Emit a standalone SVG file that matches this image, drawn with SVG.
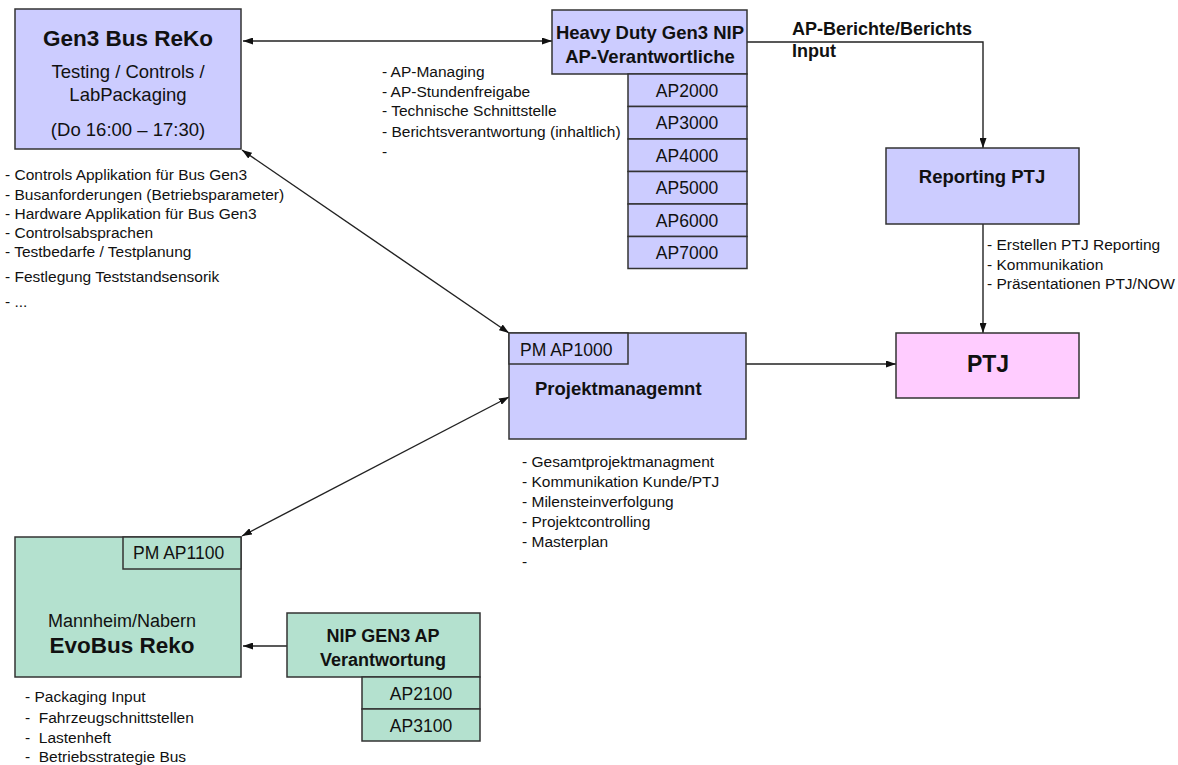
<svg xmlns="http://www.w3.org/2000/svg" width="1178" height="765" viewBox="0 0 1178 765">
<style>
text{font-family:"Liberation Sans",Arial,sans-serif;fill:#111}
.b{font-weight:bold}
.c{text-anchor:middle}
.bl{font-size:15.5px}
.lav{fill:#ccccff;stroke:#333;stroke-width:1.5}
.pink{fill:#ffccff;stroke:#333;stroke-width:1.5}
.grn{fill:#b4e1cf;stroke:#333;stroke-width:1.5}
.con{fill:none;stroke:#222;stroke-width:1.4}
</style>
<defs>
<marker id="ah" viewBox="0 0 10 7" refX="10" refY="3.5" markerWidth="10" markerHeight="7" markerUnits="userSpaceOnUse" orient="auto-start-reverse">
<path d="M0,0 L10,3.5 L0,7 z" fill="#111"/>
</marker>
</defs>
<rect width="1178" height="765" fill="#fff"/>

<g id="connectors">
<line class="con" x1="243" y1="41" x2="552" y2="41" marker-start="url(#ah)" marker-end="url(#ah)"/>
<path class="con" d="M747,42 H983 V148" marker-end="url(#ah)"/>
<line class="con" x1="983" y1="224" x2="983" y2="333" marker-end="url(#ah)"/>
<line class="con" x1="746" y1="364" x2="896" y2="364" marker-end="url(#ah)"/>
<line class="con" x1="242" y1="150" x2="509" y2="333" marker-start="url(#ah)" marker-end="url(#ah)"/>
<line class="con" x1="509" y1="397" x2="242" y2="536" marker-start="url(#ah)" marker-end="url(#ah)"/>
<line class="con" x1="287" y1="646" x2="243" y2="646" marker-end="url(#ah)"/>
<text class="b" x="792" y="35" style="font-size:18px">AP-Berichte/Berichts</text>
<text class="b" x="792" y="57" style="font-size:18px">Input</text>
</g>

<g id="gen3">
<rect class="lav" x="15" y="9" width="226" height="140"/>
<text class="b c" x="128" y="46" style="font-size:22.5px">Gen3 Bus ReKo</text>
<text class="c" x="128" y="78" style="font-size:18.5px">Testing / Controls /</text>
<text class="c" x="128" y="101" style="font-size:18.5px">LabPackaging</text>
<text class="c" x="128" y="136" style="font-size:18.5px">(Do 16:00 – 17:30)</text>
<text class="bl" x="5" y="180">- Controls Applikation für Bus Gen3</text>
<text class="bl" x="5" y="200">- Busanforderungen (Betriebsparameter)</text>
<text class="bl" x="5" y="219">- Hardware Applikation für Bus Gen3</text>
<text class="bl" x="5" y="238">- Controlsabsprachen</text>
<text class="bl" x="5" y="257">- Testbedarfe / Testplanung</text>
<text class="bl" x="5" y="282">- Festlegung Teststandsensorik</text>
<text class="bl" x="5" y="307">- ...</text>
</g>

<g id="heavyduty">
<rect class="lav" x="552" y="10" width="195" height="64"/>
<text class="b c" x="650" y="39" style="font-size:18.5px">Heavy Duty Gen3 NIP</text>
<text class="b c" x="650" y="63" style="font-size:18.5px">AP-Verantwortliche</text>
<rect class="lav" x="628" y="74" width="119" height="32.5"/>
<rect class="lav" x="628" y="106.5" width="119" height="32.5"/>
<rect class="lav" x="628" y="139" width="119" height="32.5"/>
<rect class="lav" x="628" y="171.5" width="119" height="32.5"/>
<rect class="lav" x="628" y="204" width="119" height="32.5"/>
<rect class="lav" x="628" y="236.5" width="119" height="32"/>
<text class="c" x="687" y="97" style="font-size:17.5px">AP2000</text>
<text class="c" x="687" y="129" style="font-size:17.5px">AP3000</text>
<text class="c" x="687" y="162" style="font-size:17.5px">AP4000</text>
<text class="c" x="687" y="194" style="font-size:17.5px">AP5000</text>
<text class="c" x="687" y="227" style="font-size:17.5px">AP6000</text>
<text class="c" x="687" y="259" style="font-size:17.5px">AP7000</text>
<text class="bl" x="382" y="77">- AP-Managing</text>
<text class="bl" x="382" y="97">- AP-Stundenfreigabe</text>
<text class="bl" x="382" y="116">- Technische Schnittstelle</text>
<text class="bl" x="382" y="137">- Berichtsverantwortung (inhaltlich)</text>
<text class="bl" x="382" y="157">-</text>
</g>

<g id="reporting">
<rect class="lav" x="886" y="148" width="193" height="76"/>
<text class="b c" x="982" y="183" style="font-size:18.5px">Reporting PTJ</text>
<text class="bl" x="987" y="250">- Erstellen PTJ Reporting</text>
<text class="bl" x="987" y="270">- Kommunikation</text>
<text class="bl" x="987" y="289">- Präsentationen PTJ/NOW</text>
</g>

<g id="ptj">
<rect class="pink" x="896" y="333" width="183" height="65"/>
<text class="b c" x="988" y="372" style="font-size:23px">PTJ</text>
</g>

<g id="projektmanagement">
<rect class="lav" x="509" y="333" width="237" height="106"/>
<rect class="lav" x="509" y="333" width="119" height="31"/>
<text x="520" y="356" style="font-size:17.5px">PM AP1000</text>
<text class="b" x="535" y="395" style="font-size:18.5px">Projektmanagemnt</text>
<text class="bl" x="522" y="467">- Gesamtprojektmanagment</text>
<text class="bl" x="522" y="487">- Kommunikation Kunde/PTJ</text>
<text class="bl" x="522" y="507">- Milensteinverfolgung</text>
<text class="bl" x="522" y="527">- Projektcontrolling</text>
<text class="bl" x="522" y="547">- Masterplan</text>
<text class="bl" x="522" y="567">-</text>
</g>

<g id="evobus">
<rect class="grn" x="15" y="537" width="226" height="140"/>
<rect class="grn" x="123" y="537" width="118" height="32"/>
<text x="133" y="559" style="font-size:17.5px">PM AP1100</text>
<text class="c" x="122" y="627" style="font-size:18px">Mannheim/Nabern</text>
<text class="b c" x="122" y="653" style="font-size:22.5px">EvoBus Reko</text>
<text class="bl" x="25" y="702" xml:space="preserve">- Packaging Input</text>
<text class="bl" x="25" y="723" xml:space="preserve">-  Fahrzeugschnittstellen</text>
<text class="bl" x="25" y="743" xml:space="preserve">-  Lastenheft</text>
<text class="bl" x="25" y="762" xml:space="preserve">-  Betriebsstrategie Bus</text>
</g>

<g id="nip-gen3">
<rect class="grn" x="287" y="613" width="193" height="64"/>
<text class="b c" x="383" y="642" style="font-size:18px">NIP GEN3 AP</text>
<text class="b c" x="383" y="666" style="font-size:18px">Verantwortung</text>
<rect class="grn" x="362" y="677" width="118" height="32"/>
<rect class="grn" x="362" y="709" width="118" height="32"/>
<text class="c" x="421" y="700" style="font-size:17.5px">AP2100</text>
<text class="c" x="421" y="732" style="font-size:17.5px">AP3100</text>
</g>
</svg>
